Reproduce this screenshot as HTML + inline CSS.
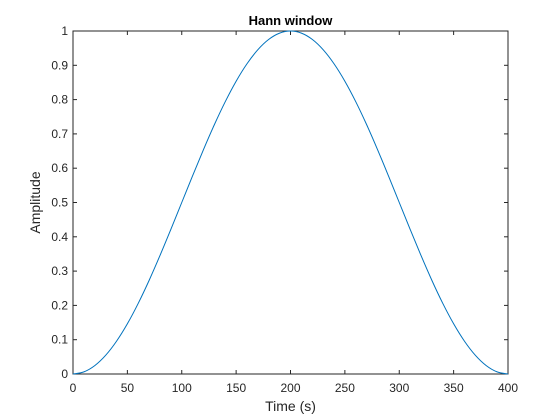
<!DOCTYPE html>
<html><head><meta charset="utf-8"><style>
html,body{margin:0;padding:0;background:#fff;}
svg{display:block;font-family:"Liberation Sans",Arial,sans-serif;}
</style></head><body>
<svg id="chart" width="560" height="420" viewBox="0 0 560 420">
<rect x="0" y="0" width="560" height="420" fill="#fff"/>
<g id="axes"></g>
</svg>
<script>
const xTicks = [0,50,100,150,200,250,300,350,400];
const yTicks = [0,0.1,0.2,0.3,0.4,0.5,0.6,0.7,0.8,0.9,1];
const yTickLabels = ["0","0.1","0.2","0.3","0.4","0.5","0.6","0.7","0.8","0.9","1"];
const sampleIdx = [0,10,20,30,40,50,60,70,80,90,100,110,120,130,140,150,160,170,180,190,200,210,220,230,240,250,260,270,280,290,300,310,320,330,340,350,360,370,380,390,400];
const amplitude = [0,0.0062,0.0245,0.0545,0.0955,0.1464,0.2061,0.2730,0.3455,0.4218,0.5,0.5782,0.6545,0.7270,0.7939,0.8536,0.9045,0.9455,0.9755,0.9938,1,0.9938,0.9755,0.9455,0.9045,0.8536,0.7939,0.7270,0.6545,0.5782,0.5,0.4218,0.3455,0.2730,0.2061,0.1464,0.0955,0.0545,0.0245,0.0062,0];

const L=73,R=508,T=31,B=374;
const sx=v=>L+(v-0)/(400-0)*(R-L);
const sy=v=>B-(v-0)/(1-0)*(B-T);
const NS="http://www.w3.org/2000/svg";
const g=document.getElementById('axes');
function mk(tag,attrs,parent){const e=document.createElementNS(NS,tag);for(const k in attrs)e.setAttribute(k,attrs[k]);(parent||g).appendChild(e);return e;}

const box=mk('rect',{x:L,y:T,width:R-L,height:B-T,fill:'#fff',stroke:'#262626','stroke-width':1});



xTicks.forEach((v)=>{
  const x=sx(v);
  mk('line',{x1:x,y1:B,x2:x,y2:B-4,stroke:'#262626'});
  mk('line',{x1:x,y1:T,x2:x,y2:T+4,stroke:'#262626'});
  const t=mk('text',{x:x,y:B+18,'text-anchor':'middle','font-size':12,fill:'#262626'});
  t.textContent=String(v);
  
  
});
yTicks.forEach((v,i)=>{
  const y=sy(v);
  mk('line',{x1:L,y1:y,x2:L+4,y2:y,stroke:'#262626'});
  mk('line',{x1:R,y1:y,x2:R-4,y2:y,stroke:'#262626'});
  const t=mk('text',{x:L-5,y:y+4,'text-anchor':'end','font-size':12,fill:'#262626'});
  t.textContent=yTickLabels[i];
  
  
});

const P=sampleIdx.map((n,i)=>[sx(n),sy(amplitude[i])]);
let d='M'+P[0][0].toFixed(2)+','+P[0][1].toFixed(2);
for(let i=0;i<P.length-1;i++){
  const p0=P[Math.max(0,i-1)],p1=P[i],p2=P[i+1],p3=P[Math.min(P.length-1,i+2)];
  const c1=[p1[0]+(p2[0]-p0[0])/6,p1[1]+(p2[1]-p0[1])/6];
  const c2=[p2[0]-(p3[0]-p1[0])/6,p2[1]-(p3[1]-p1[1])/6];
  d+=' C'+c1[0].toFixed(2)+','+c1[1].toFixed(2)+' '+c2[0].toFixed(2)+','+c2[1].toFixed(2)+' '+p2[0].toFixed(2)+','+p2[1].toFixed(2);
}
const line=mk('path',{d:d,fill:'none',stroke:'#0072BD','stroke-width':1});



const title=mk('text',{x:(L+R)/2,y:T-6,'text-anchor':'middle','font-size':13,'font-weight':'bold',fill:'#000'});
title.textContent='Hann window';



const xl=mk('text',{x:(L+R)/2,y:B+37,'text-anchor':'middle','font-size':14,fill:'#262626'});
xl.textContent='Time (s)';



const yl=mk('text',{x:0,y:0,'text-anchor':'middle','font-size':14,fill:'#262626',transform:`translate(40,${(T+B)/2}) rotate(-90)`});
yl.textContent='Amplitude';


</script>
</body></html>
